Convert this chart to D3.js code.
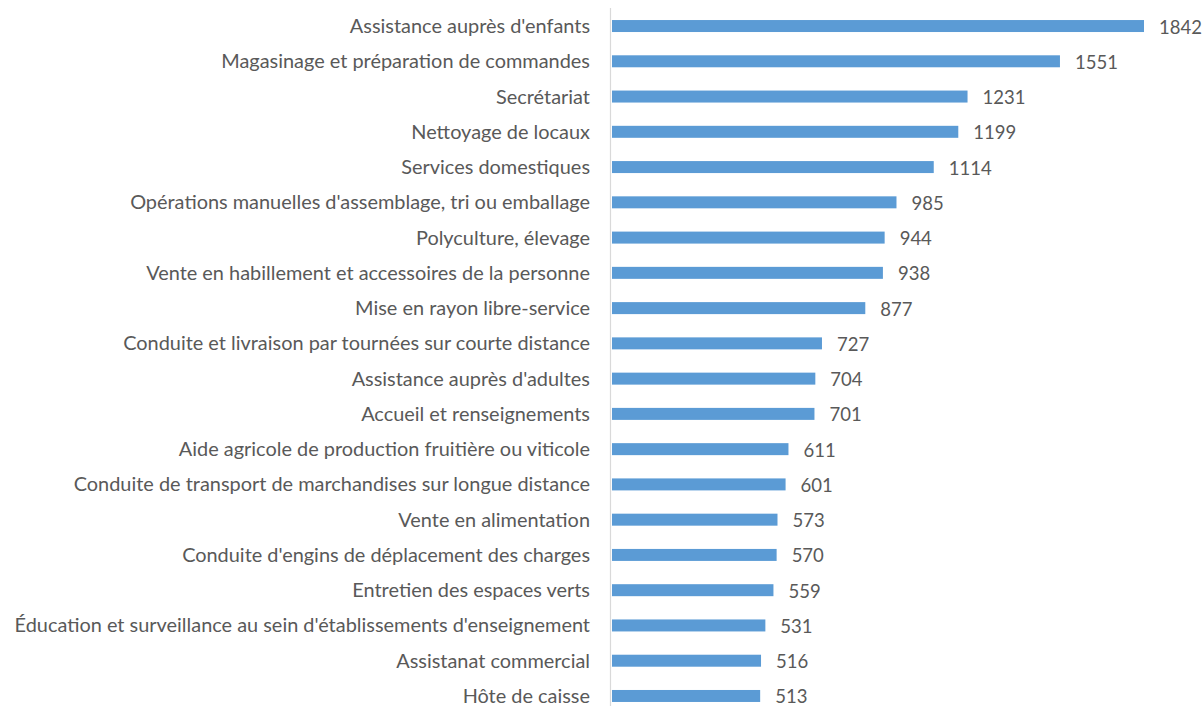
<!DOCTYPE html>
<html>
<head>
<meta charset="utf-8">
<script src="https://cdn.jsdelivr.net/npm/d3@7"></script>
<style>
  body { margin: 0; background: #fff; }
  svg text { font-family: Lato, "Open Sans", sans-serif; fill: #595959; }
</style>
</head>
<body>
<div id="chart"></div>
<script>
// job labels, top to bottom
var metiers = [
    "Assistance auprès d'enfants",
    "Magasinage et préparation de commandes",
    "Secrétariat",
    "Nettoyage de locaux",
    "Services domestiques",
    "Opérations manuelles d'assemblage, tri ou emballage",
    "Polyculture, élevage",
    "Vente en habillement et accessoires de la personne",
    "Mise en rayon libre-service",
    "Conduite et livraison par tournées sur courte distance",
    "Assistance auprès d'adultes",
    "Accueil et renseignements",
    "Aide agricole de production fruitière ou viticole",
    "Conduite de transport de marchandises sur longue distance",
    "Vente en alimentation",
    "Conduite d'engins de déplacement des charges",
    "Entretien des espaces verts",
    "Éducation et surveillance au sein d'établissements d'enseignement",
    "Assistanat commercial",
    "Hôte de caisse"
];
var valeurs = [1842, 1551, 1231, 1199, 1114, 985, 944, 938, 877, 727,
               704, 701, 611, 601, 573, 570, 559, 531, 516, 513];

var width = 1203;
var height = 706;
var x0 = 612;

var svg = d3.select("#chart")
    .append("svg")
    .attr("width", width)
    .attr("height", height);

var x = d3.scaleLinear()
    .domain([0, 1842])
    .range([x0, 1144]);

var y = d3.scaleBand()
    .domain(metiers)
    .range([8.4, 713.6])
    .paddingInner(0.66)
    .paddingOuter(0.33);

// bars
svg.append("g")
    .selectAll("rect")
    .data(valeurs)
    .enter()
    .append("rect")
    .attr("x", x(0))
    .attr("y", (d, i) => y(metiers[i]))
    .attr("width", d => x(d) - x(0))
    .attr("height", y.bandwidth())
    .attr("fill", "#5b9bd5");

// vertical axis line
svg.append("line")
    .attr("x1", 610.5).attr("x2", 610.5)
    .attr("y1", 8).attr("y2", height)
    .attr("stroke", "#d9d9d9")
    .attr("stroke-width", 1.2);

// category labels
var labels = svg.append("g")
    .selectAll("text")
    .data(metiers)
    .enter()
    .append("text")
    .attr("x", 590)
    .attr("y", d => y(d) + y.bandwidth() / 2)
    .attr("dy", "0.35em")
    .attr("text-anchor", "end")
    .attr("font-size", 17)
    .text(d => d);

// fit the longest label to the reference width (~576px)
var longest = labels.filter((d, i) => i === 17).node();
var fs = 17 * 576 / longest.getComputedTextLength();
labels.attr("font-size", fs);

// value labels (slightly smaller so 1842 stays inside)
svg.append("g")
    .selectAll("text")
    .data(valeurs)
    .enter()
    .append("text")
    .attr("x", d => x(d) + 15)
    .attr("y", (d, i) => y(metiers[i]) + y.bandwidth() / 2 + 1)
    .attr("dy", "0.35em")
    .attr("font-size", fs * 0.93)
    .text(d => d);
</script>
</body>
</html>
